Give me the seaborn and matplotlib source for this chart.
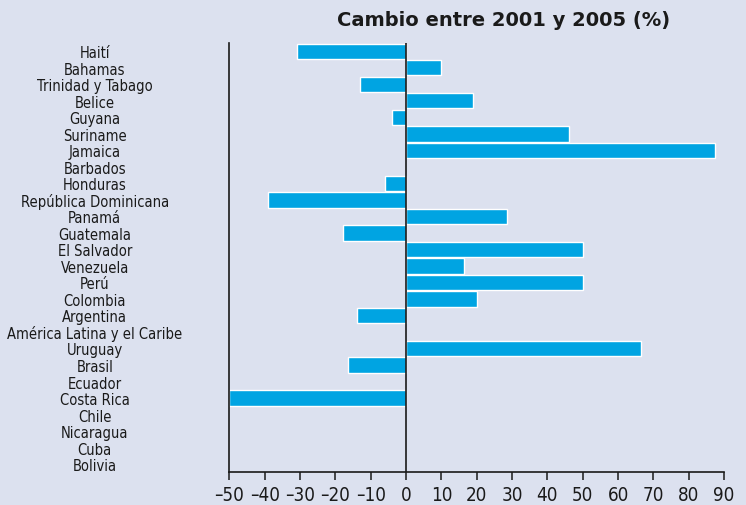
import matplotlib
matplotlib.use('Agg')
import matplotlib.pyplot as plt
import seaborn as sns
import numpy as np
import pandas as pd
from matplotlib import font_manager
from matplotlib.font_manager import FontProperties

# data (percent change 2001-2005)
paises = ['Haití', 'Bahamas', 'Trinidad y Tabago', 'Belice', 'Guyana', 'Suriname',
          'Jamaica', 'Barbados', 'Honduras', 'República Dominicana', 'Panamá',
          'Guatemala', 'El Salvador', 'Venezuela', 'Perú', 'Colombia', 'Argentina',
          'América Latina y el Caribe', 'Uruguay', 'Brasil', 'Ecuador', 'Costa Rica',
          'Chile', 'Nicaragua', 'Cuba', 'Bolivia']
cambio = [-31, 10, -13, 19, -4, 46, 87.5, np.nan, -6, -39, 28.5, -18, 50, 16.5,
          50, 20, -14, np.nan, 66.5, -16.5, np.nan, -50, np.nan, np.nan, np.nan, np.nan]
xticks = list(range(-50, 91, 10))

bg = '#DCE1EF'
azul = '#00A4E2'

sns.set_theme(style='white')
plt.rcParams['font.family'] = ['DejaVu Sans']
plt.rcParams['axes.unicode_minus'] = True

# condensed face for the labels (the original uses a narrow font)
cond = [f.fname for f in font_manager.fontManager.ttflist
        if f.fname.endswith('DejaVuSansCondensed.ttf')]
def narrow(size):
    if cond:
        return FontProperties(fname=cond[0], size=size)
    return FontProperties(family='DejaVu Sans', stretch='condensed', size=size)

df = pd.DataFrame({'pais': paises, 'cambio': cambio})

fig = plt.figure(figsize=(7.46, 5.06), dpi=100, facecolor=bg)
ax = fig.add_axes([0.3076, 0.0646, 0.663, 0.8484])
ax.set_facecolor(bg)

sns.barplot(data=df, x='cambio', y='pais', order=paises, orient='h',
            color=azul, saturation=1, width=0.93, edgecolor='white',
            linewidth=1, ax=ax)

ax.axvline(0, color='#1a1a1a', lw=1.2, zorder=5)
ax.set_xlim(-50, 90)
ax.set_ylim(len(paises) - 0.5, -0.5)
ax.set_xticks(xticks)
ax.set_xticklabels([str(v).replace('-', '\u2013') for v in xticks])
ax.set_xlabel('')
ax.set_ylabel('')

for s in ['top', 'right']:
    ax.spines[s].set_visible(False)
for s in ['left', 'bottom']:
    ax.spines[s].set_color('#1a1a1a')
    ax.spines[s].set_linewidth(1.2)

ax.tick_params(axis='x', bottom=True, direction='out', length=6, width=1.1,
               color='#1a1a1a', pad=3, labelcolor='#1a1a1a')
ax.tick_params(axis='y', left=False, pad=91, labelcolor='#1a1a1a')
for lab in ax.get_xticklabels():
    lab.set_fontproperties(narrow(13.5))
for lab in ax.get_yticklabels():
    lab.set_fontproperties(narrow(10.5))
    lab.set_ha('center')

titulo_fp = FontProperties(family='DejaVu Sans', weight='bold', size=14)
fig.text(0.675, 0.96, 'Cambio entre 2001 y 2005 (%)', ha='center', va='center',
         fontproperties=titulo_fp, color='#1a1a1a')

fig.savefig('out.png', dpi=100, facecolor=bg)
